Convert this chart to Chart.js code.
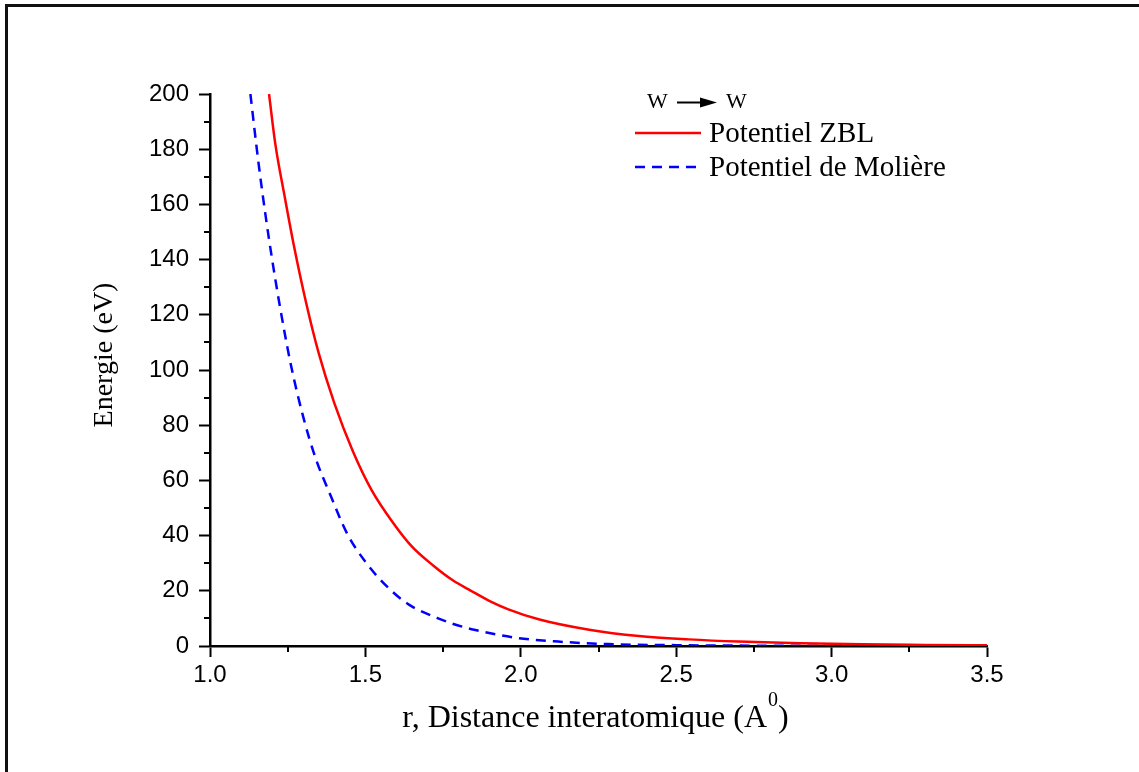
<!DOCTYPE html>
<html>
<head>
<meta charset="utf-8">
<script src="https://cdn.jsdelivr.net/npm/chart.js@4.4.1/dist/chart.umd.min.js"></script>
<style>
  body { margin: 0; background: #fff; }
  canvas { display: block; }
</style>
</head>
<body>
<canvas id="potentiel" width="1139" height="772"></canvas>
<script>
// distances r (A0) et energies (eV)
const rZbl = [1.19, 1.21, 1.24, 1.27, 1.31, 1.35, 1.40, 1.46, 1.52, 1.59, 1.65, 1.72, 1.78, 1.84, 1.90, 1.96, 2.06, 2.22, 2.38, 2.54, 2.70, 2.90, 3.10, 3.30, 3.50];
const eZbl = [200, 182, 163, 145, 124, 106, 88, 70.5, 56.5, 44.5, 36, 29, 23.9, 20, 16.3, 13.3, 9.6, 5.9, 3.6, 2.4, 1.6, 1.0, 0.6, 0.4, 0.25];

const rMoliere = [1.13, 1.155, 1.18, 1.20, 1.225, 1.26, 1.30, 1.34, 1.39, 1.44, 1.50, 1.57, 1.64, 1.73, 1.78, 1.85, 1.99, 2.12, 2.28, 2.50, 2.75, 3.00, 3.25, 3.50];
const eMoliere = [200, 176, 155, 140, 123, 102, 83, 68, 54, 41, 30.5, 21.5, 15, 10.2, 8.1, 5.9, 2.9, 1.6, 0.7, 0.3, 0.12, 0.05, 0.02, 0.01];

const labels = ["Potentiel ZBL", "Potentiel de Molière"];
const xMin = 1.0, xMax = 3.5, xStep = 0.5;
const yMin = 0, yMax = 200, yStep = 20;

function pontos(xs, ys) {
    return xs.map((x, i) => ({ x: x, y: ys[i] }));
}

// cadre, sous-graduations, legende et titres des axes
const decorPlugin = {
    id: "decor",
    beforeDraw(chart) {
        const ctx = chart.ctx;
        ctx.save();
        ctx.fillStyle = "#fff";
        ctx.fillRect(0, 0, chart.width, chart.height);
        ctx.strokeStyle = "#111";
        ctx.lineWidth = 3;
        ctx.strokeRect(6.5, 5.5, chart.width + 50, chart.height + 50);
        ctx.restore();
    },
    afterDraw(chart) {
        const ctx = chart.ctx;
        const xs = chart.scales.x, ys = chart.scales.y;
        const area = chart.chartArea;
        ctx.save();
        ctx.strokeStyle = "#000";
        ctx.lineWidth = 2;
        // sous-graduations
        for (let v = xMin + xStep / 2; v < xMax; v += xStep) {
            const px = Math.round(xs.getPixelForValue(v));
            ctx.beginPath();
            ctx.moveTo(px, area.bottom);
            ctx.lineTo(px, area.bottom + 6);
            ctx.stroke();
        }
        for (let v = yMin + yStep / 2; v < yMax; v += yStep) {
            const py = Math.round(ys.getPixelForValue(v));
            ctx.beginPath();
            ctx.moveTo(area.left, py);
            ctx.lineTo(area.left - 6, py);
            ctx.stroke();
        }

        // legende
        ctx.fillStyle = "#000";
        ctx.font = "22px 'Liberation Serif'";
        ctx.textBaseline = "alphabetic";
        ctx.fillText("W", 647, 108);
        ctx.fillText("W", 726, 108);
        ctx.beginPath();
        ctx.moveTo(677, 102.5);
        ctx.lineTo(704, 102.5);
        ctx.stroke();
        ctx.beginPath();
        ctx.moveTo(717, 102.5);
        ctx.lineTo(700, 97.5);
        ctx.lineTo(700, 107.5);
        ctx.closePath();
        ctx.fill();

        ctx.font = "29px 'Liberation Serif'";
        chart.data.datasets.forEach((ds, i) => {
            const y = 133 + i * 34;
            ctx.strokeStyle = ds.borderColor;
            ctx.lineWidth = ds.borderWidth;
            ctx.setLineDash(ds.borderDash || []);
            ctx.beginPath();
            ctx.moveTo(635, y);
            ctx.lineTo(701, y);
            ctx.stroke();
            ctx.setLineDash([]);
            ctx.fillStyle = "#000";
            ctx.fillText(ds.label, 709, y + 9);
        });

        // titre axe y
        ctx.save();
        ctx.translate(112, 355);
        ctx.rotate(-Math.PI / 2);
        ctx.textAlign = "center";
        ctx.font = "28px 'Liberation Serif'";
        ctx.fillText("Energie (eV)", 0, 0);
        ctx.restore();

        // titre axe x avec exposant
        const partie1 = "r, Distance interatomique (A";
        ctx.font = "32px 'Liberation Serif'";
        const w1 = ctx.measureText(partie1).width;
        const w3 = ctx.measureText(")").width;
        ctx.font = "20px 'Liberation Serif'";
        const w2 = ctx.measureText("0").width;
        const x0 = 595 - (w1 + w2 + w3) / 2;
        ctx.font = "32px 'Liberation Serif'";
        ctx.fillText(partie1, x0, 727);
        ctx.fillText(")", x0 + w1 + w2 + 1, 727);
        ctx.font = "20px 'Liberation Serif'";
        ctx.fillText("0", x0 + w1 + 1, 706);
        ctx.restore();
    }
};

function desenharGrafico() {
    const ctx = document.getElementById("potentiel").getContext("2d");
    window.potentielChart = new Chart(ctx, {
        type: "line",
        data: {
            datasets: [
                {
                    label: labels[0],
                    data: pontos(rZbl, eZbl),
                    borderColor: "#ff0000",
                    borderWidth: 2.5,
                    pointRadius: 0,
                    cubicInterpolationMode: "monotone",
                    fill: false
                },
                {
                    label: labels[1],
                    data: pontos(rMoliere, eMoliere),
                    borderColor: "#0000ff",
                    borderWidth: 2.5,
                    borderDash: [10, 7],
                    pointRadius: 0,
                    cubicInterpolationMode: "monotone",
                    fill: false
                }
            ]
        },
        options: {
            responsive: false,
            animation: false,
            layout: { padding: { left: 0, top: 94, right: 152, bottom: 0 } },
            plugins: {
                legend: { display: false },
                tooltip: { enabled: false }
            },
            scales: {
                x: {
                    type: "linear",
                    min: xMin,
                    max: xMax,
                    afterFit: scale => { scale.height = 126; },
                    ticks: {
                        stepSize: xStep,
                        padding: 4,
                        color: "#000",
                        font: { family: "'Liberation Sans', Arial", size: 24 },
                        callback: v => v.toFixed(1)
                    },
                    grid: {
                        drawOnChartArea: false,
                        drawTicks: true,
                        tickLength: 11,
                        tickWidth: 2,
                        tickColor: "#000"
                    },
                    border: { display: true, color: "#000", width: 2.5 }
                },
                y: {
                    min: yMin,
                    max: yMax,
                    afterFit: scale => { scale.width = 210; },
                    ticks: {
                        stepSize: yStep,
                        padding: 10,
                        color: "#000",
                        font: { family: "'Liberation Sans', Arial", size: 24 }
                    },
                    grid: {
                        drawOnChartArea: false,
                        drawTicks: true,
                        tickLength: 11,
                        tickWidth: 2,
                        tickColor: "#000"
                    },
                    border: { display: true, color: "#000", width: 2.5 }
                }
            }
        },
        plugins: [decorPlugin]
    });
}

document.addEventListener("DOMContentLoaded", function() {
    desenharGrafico();
});
</script>
</body>
</html>
